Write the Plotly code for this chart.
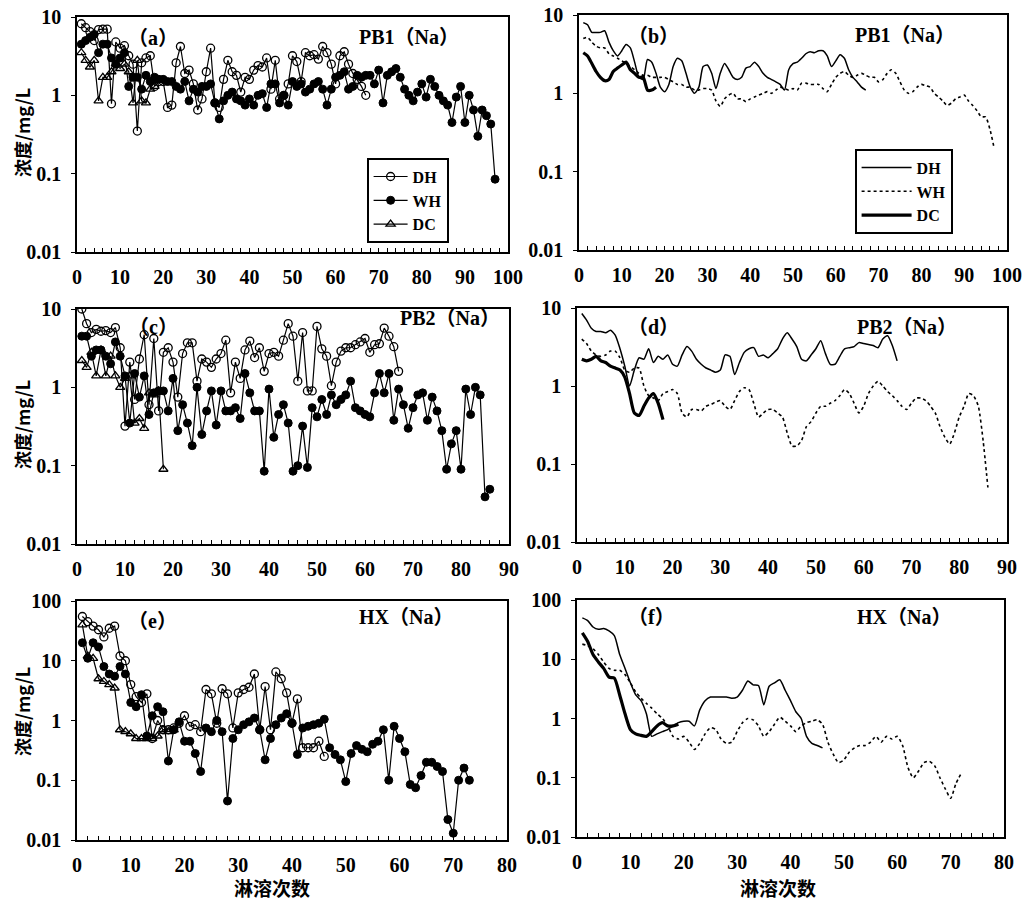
import plotly.graph_objects as go

W, H = 1027, 903

# ---------------- data ----------------
# (a) PB1 measured
a_dh = [8.2, 7.3, 6.5, 5.0, 6.9, 7.0, 7.0, 0.78, 4.8, 4.0,
        4.3, 3.2, 2.5, 0.35, 2.6, 3.0, 3.2, 1.3, 1.5, 1.5,
        0.7, 0.75, 2.6, 4.2, 1.9, 2.1, 1.4, 0.65, 0.9, 2.0,
        4.0, 0.8, 0.7, 1.6, 2.8, 2.0, 1.8, 1.1, 1.7, 1.6,
        2.1, 2.4, 2.3, 3.0, 1.2, 2.8, 0.9, 1.0, 1.4, 3.2,
        2.7, 1.5, 3.5, 3.2, 3.3, 2.9, 4.2, 3.5, 2.5, 1.4,
        3.2, 3.6, 2.5, 1.9, 1.6, 1.3, 1.0]
a_wh = [4.5, 5.0, 5.5, 6.0, 3.5, 4.5, 4.5, 3.0, 2.5, 3.0,
        3.5, 1.3, 1.7, 1.7, 1.2, 1.8, 1.5, 1.7, 1.6, 1.6,
        1.5, 1.5, 1.3, 1.2, 1.5, 0.85, 1.2, 1.1, 1.3, 1.3,
        1.4, 0.8, 0.5, 0.85, 1.0, 1.1, 0.9, 0.85, 0.75, 0.9,
        0.75, 1.0, 1.05, 0.7, 1.4, 1.4, 0.8, 1.0, 0.75, 1.5,
        1.3, 1.4, 1.1, 1.2, 1.4, 1.5, 1.2, 0.75, 1.2, 1.7,
        1.8, 2.0, 1.2, 1.3, 1.8, 1.7, 1.8, 1.8, 1.4, 2.1,
        0.8, 1.8, 2.0, 2.2, 1.7, 1.2, 1.0, 0.85, 1.1, 1.4,
        0.95, 1.6, 1.3, 1.0, 0.85, 0.75, 0.45, 0.95, 1.3, 0.45,
        1.0, 0.65, 0.3, 0.65, 0.55, 0.43, 0.085]
a_dc = [3.5, 2.8, 2.3, 2.8, 0.85, 1.7, 1.7, 2.0, 2.5, 2.2,
        2.5, 2.0, 0.8, 2.8, 0.85, 0.8, 1.2, 1.3]

# (b) PB1 smoothed
b_dh = [8, 7.5, 6, 6, 6, 6.3, 4.5, 3.5, 3, 3.5,
        4.2, 3.8, 2.5, 1.6, 1.5, 2.7, 2.5, 1.8, 1.2, 1.05,
        1.3, 2.2, 2.8, 2.6, 1.8, 1.2, 1.0, 1.2, 2.2, 2.3,
        1.8, 1.15, 1.8, 2.4, 2.0, 1.6, 1.5, 1.6, 2.1, 2.2,
        2.5, 2.2, 1.8, 1.6, 1.5, 1.4, 1.3, 1.1, 2.0, 2.4,
        2.5, 2.8, 3.2, 3.4, 3.3, 3.5, 3.5, 3.0, 2.2, 2.6,
        3.1, 2.8, 2.0, 1.6, 1.4, 1.2, 1.1]
b_wh = [5, 5.2, 4.5, 4, 3.8, 3.8, 3.2, 3, 2.8, 2.6,
        2.4, 2.2, 2.0, 1.8, 1.7, 1.7, 1.6, 1.6, 1.6, 1.6,
        1.5, 1.4, 1.3, 1.3, 1.2, 1.2, 1.1, 1.1, 1.15, 1.15,
        1.1, 0.8, 0.68, 0.85, 0.95, 1.0, 0.85, 0.85, 0.78, 0.85,
        0.9, 0.95, 1.0, 1.05, 1.0, 1.1, 1.2, 1.15, 1.1, 1.15,
        1.1, 1.35, 1.35, 1.3, 1.3, 1.3, 1.15, 1.05, 1.3, 1.6,
        1.8, 1.9, 1.7, 1.6, 1.7, 1.8, 1.7, 1.6, 1.6, 1.4,
        1.5, 1.8, 2.0, 1.8, 1.4, 1.1, 1.0, 1.05, 1.2, 1.3,
        1.25, 1.2, 1.0, 0.9, 0.8, 0.7, 0.75, 0.85, 0.9, 0.95,
        0.8, 0.7, 0.6, 0.5, 0.5, 0.35, 0.2]
b_dc = [3.3, 3.0, 2.4, 1.9, 1.6, 1.45, 1.5, 1.9, 2.1, 2.3,
        2.5, 2.0, 1.8, 1.6, 1.6, 1.1, 1.1, 1.2]

# (c) PB2 measured
c_dh = [10, 6.5, 5, 5.5, 5.2, 5.3, 5, 5.8, 3.2, 0.32,
        2.1, 0.7, 2.3, 4.7, 0.6, 4.2, 0.5, 2.8, 3.2, 2.1,
        0.75, 2.7, 3.7, 3.7, 1.2, 2.3, 2.1, 1.8, 2.3, 2.7,
        4, 0.85, 2.1, 1.3, 3, 3.9, 2.4, 3.2, 1.6, 2.7,
        2.8, 2.5, 4, 6.5, 4.5, 1.2, 5, 0.9, 0.9, 6,
        3.1, 2.5, 1.05, 2.1, 2.9, 3.2, 3.2, 3.5, 3.8, 4.2,
        2.8, 3.5, 3.6, 5.7, 4.5, 3.3, 1.6]
c_wh = [4.5, 4.5, 2.5, 3, 3, 2.5, 2, 3.8, 2.5, 1.4,
        0.35, 1.5, 0.75, 1.4, 0.45, 0.85, 0.9, 0.9, 0.5, 1.3,
        0.28, 0.6, 0.35, 0.18, 1.0, 0.25, 0.5, 0.9, 0.33, 0.9,
        0.5, 0.5, 0.55, 0.4, 1.5, 0.85, 0.5, 0.5, 0.085, 0.95,
        0.23, 0.45, 0.6, 0.35, 0.085, 0.1, 0.32, 0.095, 0.55, 0.42,
        0.7, 0.45, 0.8, 0.6, 0.7, 0.8, 1.2, 0.55, 0.5, 0.45,
        0.42, 0.85, 1.5, 0.85, 1.5, 0.38, 0.95, 0.6, 0.3, 0.55,
        0.8, 0.85, 0.38, 0.75, 0.5, 0.28, 0.09, 0.19, 0.28, 0.09,
        0.95, 0.45, 1.0, 0.8, 0.04, 0.05]
c_dc = [2.2, 1.8, 2.8, 1.4, 3, 1.4, 2.5, 1.4, 1.0, 1.3,
        1.4, 0.35, 0.4, 0.3, 0.85, 0.8, 0.9, 0.09]

# (d) PB2 smoothed
d_dh = [8.5, 7, 5.5, 5, 5, 4.8, 5.2, 4.5, 3, 1.8,
        1.0, 1.6, 2.3, 2.2, 3, 2.0, 2.4, 2.2, 2.5, 1.9,
        1.8, 2.5, 3.2, 2.8, 2.2, 1.9, 1.7, 1.6, 1.5, 1.6,
        2.5, 2.4, 1.4, 2.0, 2.7, 3.0, 3.1, 2.4, 2.5, 2.3,
        2.6, 3.0, 4.0, 4.8, 4.0, 3.2, 2.2, 2.1, 2.5, 3.0,
        3.8, 2.6, 1.9, 1.9, 2.4, 3.0, 3.1, 3.2, 3.6, 3.5,
        3.4, 3.3, 3.1, 4.0, 4.4, 3.3, 2.1]
d_wh = [4, 3.5, 2.8, 2.5, 2.4, 2.5, 2.8, 2.8, 2.3, 1.6,
        1.5, 1.7, 1.7, 1.0, 0.75, 0.7, 0.65, 0.8, 0.85, 0.9,
        0.8, 0.45, 0.4, 0.5, 0.5, 0.48, 0.55, 0.58, 0.62, 0.65,
        0.55, 0.5, 0.65, 0.85, 0.95, 0.9, 0.6, 0.4, 0.45, 0.5,
        0.5, 0.45, 0.4, 0.25, 0.17, 0.17, 0.2, 0.3, 0.35, 0.45,
        0.55, 0.55, 0.6, 0.65, 0.75, 0.9, 0.8, 0.6, 0.45, 0.55,
        0.8, 1.0, 1.15, 1.0, 0.85, 0.75, 0.65, 0.55, 0.5, 0.6,
        0.7, 0.7, 0.65, 0.55, 0.45, 0.3, 0.22, 0.18, 0.25, 0.4,
        0.55, 0.8, 0.75, 0.55, 0.2, 0.05]
d_dc = [2.2, 2.1, 2.2, 2.4, 2.1, 2.0, 1.8, 1.7, 1.6, 1.3,
        0.8, 0.45, 0.42, 0.55, 0.7, 0.8, 0.6, 0.37]

# (e) HX measured
e_dh = [55, 45, 38, 33, 25, 35, 38, 12, 10, 4,
        2.5, 2, 2.8, 0.5, 1.0, 0.7, 0.7, 0.75, 0.9, 1.2,
        0.8, 0.85, 0.65, 3.3, 2.8, 0.9, 3.4, 2.8, 0.75, 2.9,
        3.3, 3.6, 6, 0.7, 3.7, 0.7, 6.5, 5, 2.9, 0.9,
        2.3, 0.35, 0.35, 0.35, 0.45, 0.25]
e_wh = [20, 11, 20, 17, 8, 6, 5.5, 8, 6, 2,
        1.7, 2.7, 0.55, 1.2, 1.7, 1.4, 0.21, 0.7, 0.95, 0.45,
        0.45, 0.28, 0.14, 0.75, 0.65, 1.0, 0.65, 0.045, 0.5, 0.7,
        0.85, 0.95, 1.1, 0.7, 0.22, 0.5, 0.85, 1.1, 1.3, 0.9,
        0.27, 0.75, 0.8, 0.85, 0.9, 1.05, 0.35, 0.27, 0.22, 0.095,
        0.28, 0.38, 0.33, 0.3, 0.4, 0.45, 0.7, 0.1, 0.8, 0.5,
        0.3, 0.085, 0.075, 0.12, 0.2, 0.2, 0.17, 0.14, 0.022, 0.013,
        0.1, 0.16, 0.1]
e_dc = [40, 12, 11, 5, 4.5, 4, 3.5, 0.7, 0.65, 0.6,
        0.5, 0.5, 0.5, 0.5, 0.55, 0.7, 0.65, 0.7]

# (f) HX smoothed
f_dh = [50, 45, 35, 32, 33, 30, 25, 12, 7, 4,
        2.5, 2, 1.2, 0.5, 0.55, 0.6, 0.65, 0.75, 0.85, 0.9,
        0.9, 0.75, 1.4, 2.0, 2.3, 2.3, 2.3, 2.3, 2.2, 2.3,
        3.0, 4.3, 3.7, 3.6, 1.7, 3.5, 4.0, 4.5, 3.0, 2.0,
        1.3, 1.0, 0.5, 0.38, 0.35, 0.32]
f_wh = [18, 17, 15, 12, 9, 7, 6.5, 6.5, 5.5, 4,
        2.8, 2.2, 1.8, 1.5, 1.2, 1.0, 0.75, 0.5, 0.45, 0.5,
        0.4, 0.3, 0.38, 0.55, 0.7, 0.65, 0.45, 0.38, 0.4, 0.6,
        0.85, 1.0, 0.95, 0.75, 0.5, 0.6, 0.8, 1.05, 0.9, 0.75,
        0.6, 0.75, 0.85, 0.9, 0.95, 0.8, 0.4, 0.25, 0.18, 0.2,
        0.27, 0.32, 0.35, 0.35, 0.4, 0.5, 0.4, 0.5, 0.45, 0.5,
        0.35, 0.15, 0.1, 0.13, 0.18, 0.19, 0.16, 0.1, 0.065, 0.045,
        0.08, 0.12]
f_dc = [28, 20, 12, 9, 7, 5, 4.8, 2.5, 1.2, 0.65,
        0.55, 0.52, 0.5, 0.6, 0.75, 0.85, 0.75, 0.75, 0.8]

series_names = ["DH", "WH", "DC"]
panel_letters = ["（a）", "（b）", "（c）", "（d）", "（e）", "（f）"]
panel_titles = ["PB1（Na）", "PB1（Na）", "PB2（Na）", "PB2（Na）", "HX（Na）", "HX（Na）"]
x_ranges = [[0, 100], [0, 100], [0, 90], [0, 90], [0, 80], [0, 80]]
y_ranges = [[-2, 1], [-2, 1], [-2, 1], [-2, 1], [-2, 2], [-2, 2]]
y_ticks = [[0.01, 0.1, 1, 10]] * 4 + [[0.01, 0.1, 1, 10, 100]] * 2
y_title = "浓度/mg/L"
x_title = "淋溶次数"

# ---------------- layout geometry (pixels) ----------------
boxes = [(77, 508, 17, 252), (579, 1007, 15, 250),
         (77, 509, 309, 544), (577, 1007, 308, 542),
         (77, 507, 601, 840), (577, 1004, 600, 837)]

SERIF = "Liberation Serif"
CJK = "Noto Sans CJK SC"
TF = dict(family=SERIF, size=20, color="black", weight="bold")


def idx(v):
    return list(range(1, len(v) + 1))


fig = go.Figure()

measured = [(a_dh, a_wh, a_dc), (c_dh, c_wh, c_dc), (e_dh, e_wh, e_dc)]
smoothed = [(b_dh, b_wh, b_dc), (d_dh, d_wh, d_dc), (f_dh, f_wh, f_dc)]

mk_styles = [dict(symbol="circle-open", size=8, color="black", line=dict(width=1.3, color="black")),
             dict(symbol="circle", size=8, color="black", line=dict(width=1, color="black")),
             dict(symbol="triangle-up-open", size=8, color="black", line=dict(width=1.3, color="black"))]
ln_styles = [dict(color="black", width=1.5),
             dict(color="black", width=1.6, dash="3px,3px"),
             dict(color="black", width=3.2)]

for r in range(3):
    ax_m = 2 * r + 1
    ax_s = 2 * r + 2
    for k, ys in enumerate(measured[r]):
        fig.add_trace(go.Scatter(
            x=idx(ys), y=ys, mode="lines+markers", name=series_names[k],
            line=dict(color="black", width=1.2), marker=mk_styles[k],
            xaxis="x%d" % ax_m, yaxis="y%d" % ax_m,
            showlegend=(r == 0), legend="legend"))
    for k, ys in enumerate(smoothed[r]):
        fig.add_trace(go.Scatter(
            x=idx(ys), y=ys, mode="lines", name=series_names[k],
            line=dict(**ln_styles[k], shape="spline", smoothing=0.6),
            xaxis="x%d" % ax_s, yaxis="y%d" % ax_s,
            showlegend=(r == 0), legend="legend2"))

layout = dict(width=W, height=H, margin=dict(l=0, r=0, t=0, b=0),
              paper_bgcolor="white", plot_bgcolor="white",
              font=dict(family=SERIF, color="black"))

for i in range(6):
    x0, x1, y0, y1 = boxes[i]
    n = i + 1
    layout["xaxis%d" % n] = dict(
        domain=[x0 / W, x1 / W], range=x_ranges[i], anchor="y%d" % n,
        showline=True, mirror=True, linecolor="black", linewidth=1.6,
        ticks="inside", ticklen=4, tickwidth=1.3, tickcolor="black",
        tick0=0, dtick=10, tickfont=TF, ticklabelstandoff=6,
        minor=dict(dtick=2, ticks="inside", ticklen=4, tickwidth=1.3, tickcolor="black"),
        showgrid=False, zeroline=False, automargin=False)
    layout["yaxis%d" % n] = dict(
        domain=[1 - y1 / H, 1 - y0 / H], type="log", range=y_ranges[i], anchor="x%d" % n,
        showline=True, mirror=True, linecolor="black", linewidth=1.6,
        ticks="outside", ticklen=4, tickwidth=1.3, tickcolor="black",
        tickvals=y_ticks[i], ticktext=[("%g" % v) for v in y_ticks[i]],
        tickfont=TF, ticklabelstandoff=6,
        showgrid=False, zeroline=False, automargin=False)

ann = []
letter_pos = [(153, 38), (653, 36), (153, 327), (653, 327), (152, 621), (651, 617)]
title_pos = [(357, 37), (853, 35), (398, 318), (855, 327), (357, 617), (855, 617)]
ANN_FONT = dict(family=SERIF + ", " + CJK, size=20, color="black", weight="bold")
for i in range(6):
    lx, ly = letter_pos[i]
    ann.append(dict(text=panel_letters[i], x=lx / W, y=1 - ly / H, xref="paper", yref="paper",
                    xanchor="center", yanchor="middle", showarrow=False, font=ANN_FONT))
    tx, ty = title_pos[i]
    ann.append(dict(text=panel_titles[i], x=tx / W, y=1 - ty / H, xref="paper", yref="paper",
                    xanchor="left", yanchor="middle", showarrow=False, font=ANN_FONT))

for cy in (133, 425, 712):
    ann.append(dict(text=y_title, x=22 / W, y=1 - cy / H, xref="paper", yref="paper",
                    xanchor="center", yanchor="middle", textangle=-90, showarrow=False,
                    font=dict(family=CJK, size=18, color="black", weight="bold")))
for cx in (272, 778):
    ann.append(dict(text=x_title, x=cx / W, y=1 - 887 / H, xref="paper", yref="paper",
                    xanchor="center", yanchor="middle", showarrow=False,
                    font=dict(family=CJK, size=19, color="black", weight="bold")))
layout["annotations"] = ann

legend_font = dict(family=SERIF, size=16, color="black", weight="bold")
layout["legend"] = dict(x=367 / W, y=1 - 158 / H, xanchor="left", yanchor="top",
                        bordercolor="black", borderwidth=1.6, bgcolor="white",
                        font=legend_font, tracegroupgap=0, itemwidth=34)
layout["legend2"] = dict(x=855 / W, y=1 - 149 / H, xanchor="left", yanchor="top",
                         bordercolor="black", borderwidth=1.6, bgcolor="white",
                         font=legend_font, tracegroupgap=0, itemwidth=50)

fig.update_layout(**layout)
fig.write_html("out.html", config={"displayModeBar": False},
               post_script="document.body.style.margin='0px';document.body.style.overflow='hidden';")
